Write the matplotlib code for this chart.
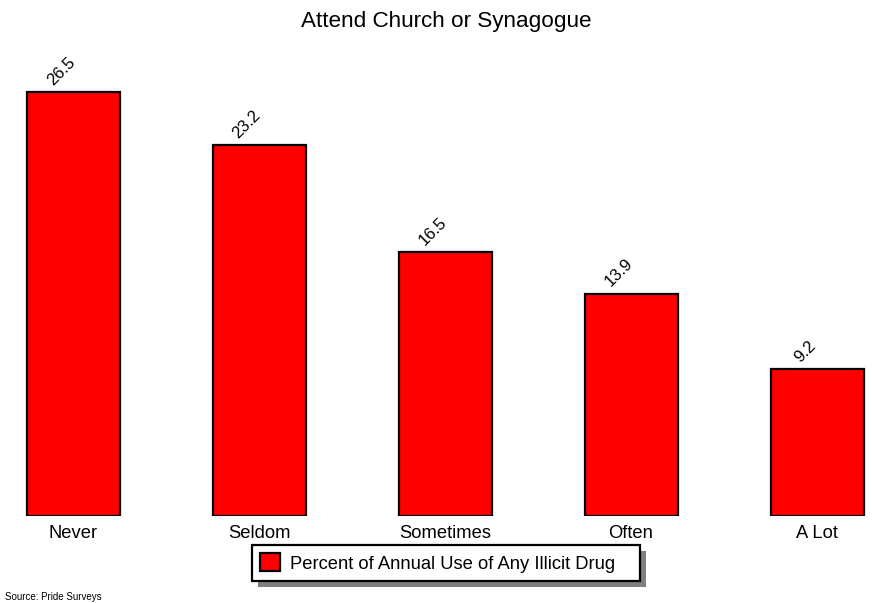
import matplotlib
matplotlib.use("Agg")
import matplotlib.pyplot as plt
from matplotlib.patches import Rectangle

plt.rcParams['font.family'] = ['Liberation Sans', 'DejaVu Sans']

categories = ["Never", "Seldom", "Sometimes", "Often", "A Lot"]
values = [26.5, 23.2, 16.5, 13.9, 9.2]
series_name = "Percent of Annual Use of Any Illicit Drug"
title = "Attend Church or Synagogue"
source = "Source: Pride Surveys"

W, H = 872, 603
fig = plt.figure(figsize=(W / 100, H / 100), dpi=100)

# axes placed in pixels: baseline at y=516 from top, bars spaced 186 px
base_px = 516
ax = fig.add_axes([0, (H - base_px) / H, 1, (base_px - 36) / H])
ax.set_xlim((0 - 73) / 186, (W - 73) / 186)
ax.set_ylim(0, 30)
ax.axis('off')

x = list(range(len(categories)))
bars = ax.bar(x, values, width=0.5, color='#ff0000', edgecolor='black', linewidth=1.6)

for xi, v in zip(x, values):
    ax.text(xi - 0.065, v + 0.25, f"{v:.1f}", rotation=45, ha='center', va='bottom',
            fontsize=12, color='black')

for xi, c in zip(x, categories):
    ax.text(xi, -0.55, c, ha='center', va='top', fontsize=13.2, color='black')

fig.text(446 / W, 1 - 21 / H, title, ha='center', va='center', fontsize=16.2)
fig.text(5 / W, 1 - 597 / H, source, ha='left', va='center', fontsize=7)

leg = fig.legend([bars[0]], [series_name], loc='center left', bbox_to_anchor=(252 / W, 1 - 563 / H),
                 frameon=False, fontsize=13.2,
                 handlelength=1.1, handleheight=1.1, borderpad=0.45, handletextpad=0.55,
                 borderaxespad=0)

# legend box with drop shadow, drawn by hand so it can be wider than the text
fig.canvas.draw()
bb = leg.get_window_extent()
box_w = 388
fig.patches.append(Rectangle((bb.x0 + 6, bb.y0 - 6), box_w, bb.height,
                             transform=None, facecolor='#808080', edgecolor='none',
                             zorder=4))
fig.patches.append(Rectangle((bb.x0, bb.y0), box_w, bb.height,
                             transform=None, facecolor='white', edgecolor='black',
                             linewidth=1.6, zorder=4.5))

fig.savefig("out.png", dpi=100)
